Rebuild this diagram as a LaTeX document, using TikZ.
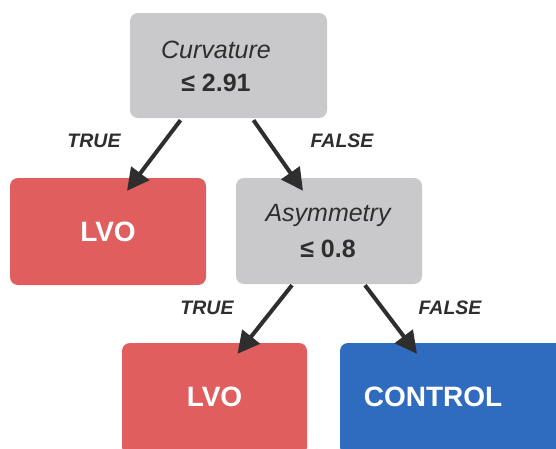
\documentclass[tikz,border=0pt]{standalone}
\usepackage{fontspec}
\setmainfont{Liberation Sans}
\usetikzlibrary{arrows.meta,calc}
\definecolor{boxgray}{HTML}{C9C9CB}
\definecolor{boxred}{HTML}{E05E5E}
\definecolor{boxblue}{HTML}{2F6CBF}
\definecolor{ink}{HTML}{2E2E2E}
\begin{document}
\begin{tikzpicture}[x=1pt,y=-1pt,
  decbox/.style={fill=boxgray,rounded corners=8pt,draw=none,text=ink,align=center,inner sep=0pt},
  leafbox/.style={rounded corners=8pt,draw=none,text=white,font=\fontsize{28}{30}\selectfont\bfseries,inner sep=0pt},
  edge/.style={draw=ink,line width=4pt,-{Triangle[length=22pt,width=22pt]}},
  edgelbl/.style={text=ink,font=\fontsize{19.5}{21}\selectfont\bfseries\itshape,inner sep=0pt}]
\clip (0,0) rectangle (556,448);
\fill[white] (0,0) rectangle (556,448);
\node[decbox,minimum width=197pt,minimum height=105pt] (root) at (228.5,65.5) {};
\node[text=ink,font=\fontsize{25}{26}\selectfont\itshape,inner sep=0pt] (t1) at (216,50) {Curvature};
\node[text=ink,font=\fontsize{25}{26}\selectfont\bfseries,inner sep=0pt] (t2) at (216,83) {≤ 2.91};
\node[leafbox,fill=boxred,minimum width=196pt,minimum height=107pt] (lvoA) at (108,231.5) {LVO};
\node[decbox,minimum width=186pt,minimum height=106pt] (asym) at (329,231) {};
\node[text=ink,font=\fontsize{25}{26}\selectfont\itshape,inner sep=0pt] (t3) at (328,215) {Asymmetry};
\node[text=ink,font=\fontsize{25}{26}\selectfont\bfseries,inner sep=0pt] (t4) at (328,249) {≤ 0.8};
\node[leafbox,fill=boxred,minimum width=185pt,minimum height=112pt] (lvoB) at (214.5,399) {};
\node[text=white,font=\fontsize{28}{30}\selectfont\bfseries,inner sep=0pt] (t5) at (214.5,397) {LVO};
\node[leafbox,fill=boxblue,minimum width=226pt,minimum height=112pt] (ctrl) at (453,399) {};
\node[text=white,font=\fontsize{28}{30}\selectfont\bfseries,inner sep=0pt] (t6) at (433,397) {CONTROL};
\draw[edge] ($(root.south)+(-48,2)$) -- ($(lvoA.north)+(19,13)$);
\draw[edge] ($(root.south)+(25,2)$) -- ($(asym.north)+(-26,13)$);
\draw[edge] ($(asym.south)+(-37,1)$) -- ($(lvoB.north)+(23,11)$);
\draw[edge] ($(asym.south)+(36,1)$) -- ($(ctrl.north)+(-36,11)$);
\node[edgelbl] (l1) at (94,141) {TRUE};
\node[edgelbl] (l2) at (342,141) {FALSE};
\node[edgelbl] (l3) at (207,308) {TRUE};
\node[edgelbl] (l4) at (450,308) {FALSE};
\end{tikzpicture}
\end{document}
